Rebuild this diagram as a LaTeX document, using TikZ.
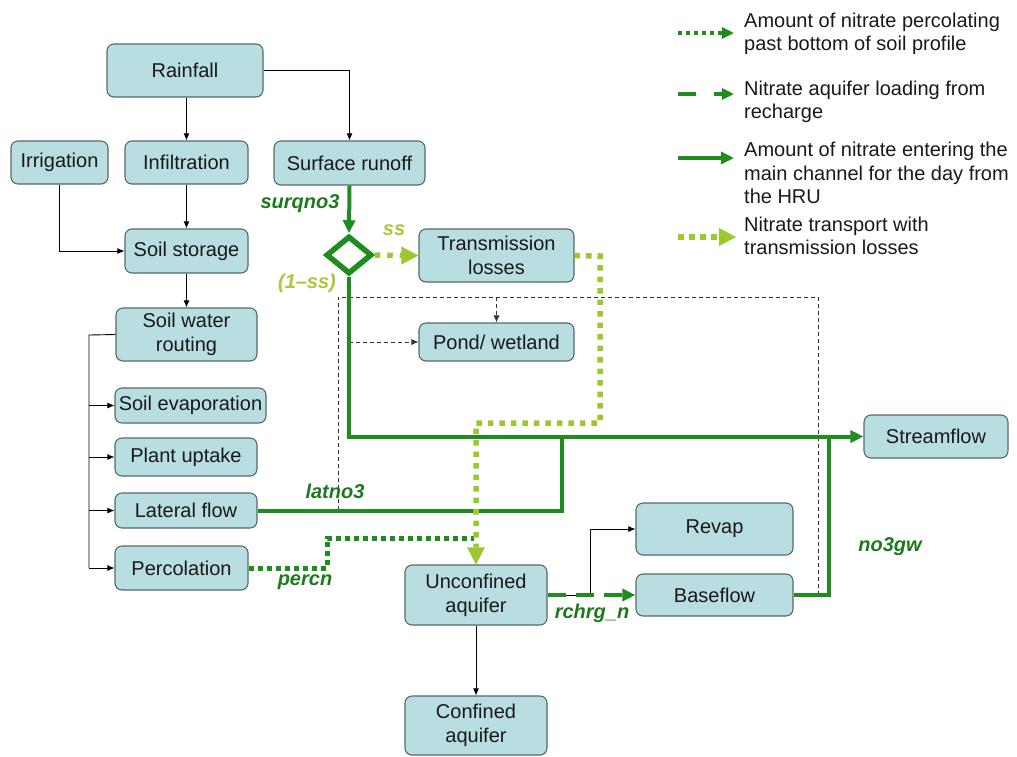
\documentclass[tikz,border=0pt]{standalone}
\usepackage{fontspec}
\setmainfont{Liberation Sans}
\usetikzlibrary{arrows.meta,shapes.geometric}
\definecolor{boxfill}{HTML}{B9DEE1}
\definecolor{boxline}{HTML}{56686A}
\definecolor{dkgreen}{HTML}{1E8C1E}
\definecolor{lbgreen}{HTML}{1B7A1B}
\definecolor{ltgreen}{HTML}{9AC82E}
\definecolor{ltlabel}{HTML}{A8C83A}
\begin{document}
\begin{tikzpicture}[x=1pt,y=-1pt,
  every node/.style={font=\fontsize{20}{24}\selectfont, text=black!90},
  box/.style={draw=boxline, fill=boxfill, line width=1.1pt, rounded corners=7pt,
    align=center, inner sep=0pt},
  thin/.style={draw=black, line width=0.9pt, -{Latex[length=7pt,width=6pt]}},
  thindash/.style={draw=black!80, line width=0.8pt, dash pattern=on 4pt off 3pt},
  solidg/.style={draw=dkgreen, line width=4pt},
  solidarr/.style={solidg, -{Triangle[length=13pt,width=12pt]}},
  dotg/.style={draw=dkgreen, line width=5pt, dash pattern=on 5pt off 4pt},
  dashg/.style={draw=dkgreen, line width=4pt, dash pattern=on 18pt off 10pt},
  dotlt/.style={draw=ltgreen, line width=5.5pt, dash pattern=on 5.5pt off 6pt},
  flowlab/.style={font=\fontsize{20}{24}\selectfont\bfseries\itshape, text=lbgreen, inner sep=0pt},
  ltlab/.style={font=\fontsize{20}{24}\selectfont\bfseries\itshape, text=ltlabel, inner sep=0pt},
  legtext/.style={anchor=west, align=left, inner sep=0pt,
    font=\fontsize{20}{23.5}\selectfont}
]
\useasboundingbox (0,0) rectangle (1017,756);

% ---- boxes ----
\node[box, minimum width=156pt, minimum height=53pt] (rain)   at (185,70.5)  {Rainfall};
\node[box, minimum width=97pt,  minimum height=43pt] (irr)    at (59.5,162.5) {Irrigation};
\node[box, minimum width=123pt, minimum height=43pt] (inf)    at (186.5,162.5) {Infiltration};
\node[box, minimum width=151pt, minimum height=44pt] (sur)    at (349.5,163) {Surface runoff};
\node[box, minimum width=123pt, minimum height=44pt] (store)  at (186.5,251) {Soil storage};
\node[box, minimum width=141pt, minimum height=53pt] (swr)    at (186.5,334.5) {Soil water\\routing};
\node[box, minimum width=151pt, minimum height=35pt] (evap)   at (190.5,405.5) {Soil evaporation};
\node[box, minimum width=142pt, minimum height=38pt] (plant)  at (186,457) {Plant uptake};
\node[box, minimum width=142pt, minimum height=35pt] (lat)    at (186,510.5) {Lateral flow};
\node[box, minimum width=133pt, minimum height=44pt] (perc)   at (181.5,568) {Percolation};
\node[box, minimum width=155pt, minimum height=53pt] (trans)  at (496.5,255.5) {Transmission\\losses};
\node[box, minimum width=155pt, minimum height=38pt] (pond)   at (496.5,342) {Pond/ wetland};
\node[box, minimum width=142pt, minimum height=60pt] (uncon)  at (476,595) {Unconfined\\aquifer};
\node[box, minimum width=142pt, minimum height=59pt] (conf)   at (476,725.5) {Confined\\aquifer};
\node[box, minimum width=157pt, minimum height=52pt] (revap)  at (714.5,529) {Revap};
\node[box, minimum width=157pt, minimum height=42pt] (base)   at (714.5,595) {Baseflow};
\node[box, minimum width=144pt, minimum height=43pt] (stream) at (936,436.5) {Streamflow};

% splitting point of surface runoff
\node[diamond, draw=dkgreen, line width=5.5pt, inner sep=0pt, aspect=1.2,
      minimum width=46pt, minimum height=38pt] (split) at (349,255) {};

% ---- water routing (thin black) ----
\draw[thin] (rain.south -| inf.north) -- (inf.north);
\draw[thin] (rain.east) -| (sur.north);
\draw[thin] (irr.south) |- (store.west);
\draw[thin] (inf.south) -- (store.north);
\draw[thin] (store.south) -- (store.south |- swr.north);
\coordinate (rail) at (89,335);
\draw[draw=black, line width=0.9pt] (swr.west) -- (rail) -- (rail |- perc.west);
\draw[thin] (rail |- evap.west) -- (evap.west);
\draw[thin] (rail |- plant.west) -- (plant.west);
\draw[thin] (rail |- lat.west) -- (lat.west);
\draw[thin] (rail |- perc.west) -- (perc.west);
\draw[thin] (uncon.south) -- (conf.north);
\coordinate (rv) at (590,595);
\draw[thin] (uncon.east) -- (rv) |- (revap.west);

% ---- pond / wetland inflows (dashed) ----
\coordinate (dA) at (338,510);
\coordinate (dB) at (338,297);
\coordinate (dC) at (818,297);
\coordinate (dD) at (818,595);
\draw[thindash] (dA) -- (dB) -- (dC) -- (dD);
\draw[thindash, -{Latex[length=7pt,width=6pt]}] (pond.north |- dB) -- (pond.north);
\draw[thindash, -{Latex[length=7pt,width=6pt]}] (349,342) -- (pond.west);

% ---- nitrate flows ----
\coordinate (j1) at (562,437);
\coordinate (j2) at (829,437);
\draw[solidarr] (sur.south) -- (split.north);
\draw[solidarr] (split.south) |- (stream.west);
\draw[solidg] (lat.east) -| (j1);
\draw[solidg] (base.east) -| (j2);
\draw[dashg, -{Triangle[length=13pt,width=12pt]}] (uncon.east) -- (base.west);
\coordinate (p1) at (327,568);
\coordinate (p2) at (327,538);
\coordinate (p3) at (474,538);
\draw[dotg] (perc.east) -- (p1) -- (p2) -- (p3);
\coordinate (t1) at (600,256);
\coordinate (t2) at (600,423);
\coordinate (t3) at (476,423);
\draw[dotlt] (trans.east) -- (t1) -- (t2) -- (t3) -- ([yshift=17pt]uncon.north);
\fill[ltgreen] ([xshift=-9pt,yshift=17pt]uncon.north) -- ([xshift=9pt,yshift=17pt]uncon.north) -- (uncon.north) -- cycle;
\draw[dotlt, dash pattern=on 5.5pt off 7pt] (split.east) -- ([xshift=-16pt]trans.west);
\fill[ltgreen] ([xshift=-17pt,yshift=-9pt]trans.west) -- ([xshift=-17pt,yshift=9pt]trans.west) -- (trans.west) -- cycle;

% ---- flow labels ----
\node[flowlab] (lsurq) at (300,204) {surqno3};
\node[ltlab]   (lss)   at (394,230) {ss};
\node[ltlab]   (lnss)  at (307,283) {(1--ss)};
\node[flowlab] (llat)  at (335,491) {latno3};
\node[flowlab] (lperc) at (305,582) {percn};
\node[flowlab] (lrch)  at (592,613) {rchrg\_n};
\node[flowlab] (lgw)   at (890,547) {no3gw};

% ---- legend ----
\coordinate (a1) at (678,33);  \coordinate (b1) at (734,33);
\coordinate (a2) at (678,94);  \coordinate (b2) at (734,94);
\coordinate (a3) at (678,158); \coordinate (b3) at (734,158);
\coordinate (a4) at (678,237); \coordinate (b4) at (736,237);
\draw[dotg, line width=4pt, dash pattern=on 4pt off 4pt] (a1) -- ([xshift=-12pt]b1);
\draw[draw=dkgreen, line width=4pt, -{Triangle[length=12pt,width=11pt]}] ([xshift=-12pt]b1) -- (b1);
\draw[draw=dkgreen, line width=4pt] (a2) -- ([xshift=18pt]a2);
\draw[draw=dkgreen, line width=4pt, -{Triangle[length=12pt,width=11pt]}] ([xshift=-20pt]b2) -- (b2);
\draw[solidg, -{Triangle[length=13pt,width=12pt]}] (a3) -- (b3);
\draw[dotlt, dash pattern=on 6pt off 5pt] (a4) -- ([xshift=-17pt]b4);
\fill[ltgreen] ([xshift=-17pt,yshift=-9pt]b4) -- ([xshift=-17pt,yshift=9pt]b4) -- (b4) -- cycle;
\node[legtext] (leg1) at (744,34)  {Amount of nitrate percolating\\past bottom of soil profile};
\node[legtext] (leg2) at (744,102) {Nitrate aquifer loading from\\recharge};
\node[legtext] (leg3) at (744,173) {Amount of nitrate entering the\\main channel for the day from\\the HRU};
\node[legtext] (leg4) at (744,236) {Nitrate transport with\\transmission losses};
\end{tikzpicture}
\end{document}
